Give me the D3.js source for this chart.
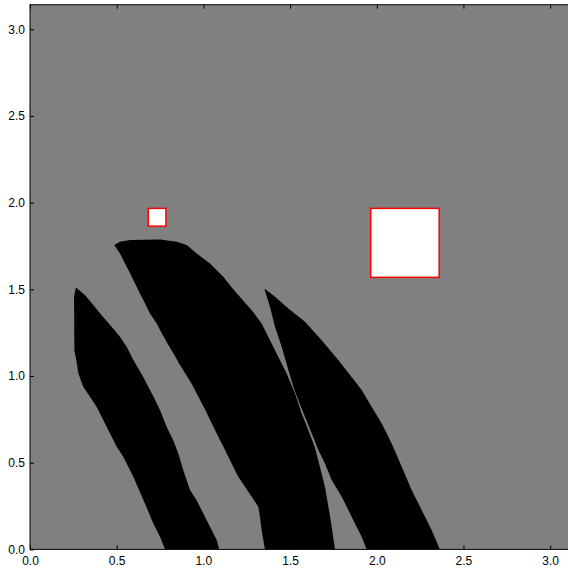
<!DOCTYPE html>
<html>
<head>
<meta charset="utf-8">
<script src="https://cdn.jsdelivr.net/npm/d3@7"></script>
<style>
  html, body { margin: 0; padding: 0; background: #ffffff; }
  svg { display: block; }
  text { font-family: "Liberation Sans", Arial, sans-serif; }
</style>
</head>
<body>
<div id="chart"></div>
<script>
// ---- data (data units, axes span 0..pi) ----
const xTicks = [0, 0.5, 1.0, 1.5, 2.0, 2.5, 3.0];
const yTicks = [0, 0.5, 1.0, 1.5, 2.0, 2.5, 3.0];

// black region 1 (left band) outline
const band1 = [
  [0.265,1.511],[0.317,1.467],[0.365,1.409],[0.413,1.351],[0.471,1.284],[0.519,1.226],
  [0.558,1.168],[0.596,1.092],[0.653,0.995],[0.702,0.900],[0.750,0.804],[0.788,0.707],
  [0.826,0.630],[0.855,0.554],[0.884,0.457],[0.923,0.342],
  [0.961,0.284],[0.999,0.208],[1.038,0.130],[1.077,0.054],[1.092,0.000],
  [0.779,0.000],[0.750,0.073],[0.711,0.150],[0.671,0.246],[0.629,0.342],[0.596,0.419],
  [0.567,0.476],[0.538,0.534],[0.500,0.592],[0.471,0.649],[0.442,0.707],[0.413,0.765],
  [0.385,0.822],[0.346,0.880],[0.307,0.938],[0.279,1.015],[0.267,1.092],[0.256,1.149],
  [0.254,1.457]
];

// black region 2 (middle band) outline
const band2 = [
  [0.486,1.755],[0.519,1.707],[0.548,1.649],[0.577,1.592],[0.606,1.534],[0.634,1.476],
  [0.663,1.419],[0.692,1.361],[0.731,1.303],[0.760,1.246],[0.793,1.188],[0.828,1.130],
  [0.859,1.074],[0.894,1.017],[0.933,0.954],[0.971,0.880],[1.012,0.803],[1.048,0.727],
  [1.086,0.649],[1.125,0.573],[1.163,0.496],[1.201,0.419],[1.240,0.361],[1.279,0.303],
  [1.317,0.246],[1.326,0.188],[1.336,0.111],[1.355,0.000],
  [1.759,0.000],[1.740,0.130],[1.721,0.246],[1.701,0.361],[1.672,0.476],[1.642,0.592],
  [1.605,0.688],[1.567,0.784],[1.528,0.900],[1.480,1.015],[1.432,1.111],[1.374,1.226],
  [1.336,1.303],[1.279,1.380],[1.201,1.467],[1.153,1.524],[1.115,1.572],[1.038,1.649],
  [0.961,1.707],[0.904,1.755],[0.846,1.774],[0.750,1.788],[0.577,1.784],[0.519,1.774]
];

// black region 3 (right band) outline
const band3 = [
  [1.351,1.505],[1.413,1.457],[1.490,1.390],[1.586,1.313],[1.682,1.207],[1.778,1.092],
  [1.855,0.995],[1.913,0.919],[1.971,0.822],[2.028,0.727],[2.086,0.611],[2.144,0.476],
  [2.201,0.342],[2.259,0.227],[2.317,0.111],[2.364,0.000],
  [1.942,0.000],[1.913,0.073],[1.874,0.150],[1.836,0.227],[1.798,0.303],[1.740,0.400],
  [1.701,0.496],[1.663,0.573],[1.625,0.669],[1.586,0.765],[1.547,0.861],[1.519,0.938],
  [1.490,1.034],[1.452,1.168],[1.413,1.284],[1.384,1.399]
];
const bands = [band1, band2, band3];

// white squares: [x0, y0, x1, y1]
const squareX0 = [0.682, 1.965];
const squareX1 = [0.784, 2.360];
const squareY0 = [1.864, 1.569];
const squareY1 = [1.967, 1.967];

// ---- layout ----
const W = 568, H = 569;
const plotLeft = 30, plotTop = 4.7, plotSize = 544.7;
const domainMax = Math.PI;

const svg = d3.select("#chart").append("svg")
  .attr("width", W).attr("height", H);

const x = d3.scaleLinear().domain([0, domainMax]).range([plotLeft, plotLeft + plotSize]);
const y = d3.scaleLinear().domain([0, domainMax]).range([plotTop + plotSize, plotTop]);

svg.append("defs").append("clipPath").attr("id", "plotclip")
  .append("rect").attr("x", plotLeft).attr("y", plotTop).attr("width", plotSize).attr("height", plotSize);

const plot = svg.append("g").attr("clip-path", "url(#plotclip)");

plot.append("rect")
  .attr("x", plotLeft).attr("y", plotTop).attr("width", plotSize).attr("height", plotSize)
  .attr("fill", "#808080");

const line = d3.line().x(d => x(d[0])).y(d => y(d[1])).curve(d3.curveLinearClosed);

plot.selectAll("path.band").data(bands).join("path")
  .attr("class", "band")
  .attr("d", line)
  .attr("fill", "#000000")
  .attr("stroke", "none");

const sq = squareX0.map((v, i) => ({x0: v, x1: squareX1[i], y0: squareY0[i], y1: squareY1[i]}));
plot.selectAll("rect.sq").data(sq).join("rect")
  .attr("class", "sq")
  .attr("x", d => x(d.x0))
  .attr("y", d => y(d.y1))
  .attr("width", d => x(d.x1) - x(d.x0))
  .attr("height", d => y(d.y0) - y(d.y1))
  .attr("fill", "#ffffff")
  .attr("stroke", "#ff0000")
  .attr("stroke-width", 1.5);

// frame
svg.append("rect")
  .attr("x", plotLeft).attr("y", plotTop).attr("width", plotSize).attr("height", plotSize)
  .attr("fill", "none").attr("stroke", "#000").attr("stroke-width", 1);

const fmt = d3.format(".1f");

// axes (inward ticks)
const gx = svg.append("g").attr("transform", `translate(0,${plotTop + plotSize})`)
  .call(d3.axisBottom(x).tickValues(xTicks).tickFormat(fmt).tickSize(-4).tickPadding(7));
const gxTop = svg.append("g").attr("transform", `translate(0,${plotTop})`)
  .call(d3.axisTop(x).tickValues(xTicks).tickFormat("").tickSize(-4));
const gy = svg.append("g").attr("transform", `translate(${plotLeft},0)`)
  .call(d3.axisLeft(y).tickValues(yTicks).tickFormat(fmt).tickSize(-4).tickPadding(5));
const gyRight = svg.append("g").attr("transform", `translate(${plotLeft + plotSize},0)`)
  .call(d3.axisRight(y).tickValues(yTicks).tickFormat("").tickSize(-4));

[gx, gxTop, gy, gyRight].forEach(g => {
  g.select(".domain").remove();
  g.selectAll(".tick line").attr("stroke", "#000");
  g.selectAll("text").attr("font-size", 12).attr("fill", "#000")
    .attr("font-family", "'Liberation Sans', Arial, sans-serif");
});
</script>
</body>
</html>
